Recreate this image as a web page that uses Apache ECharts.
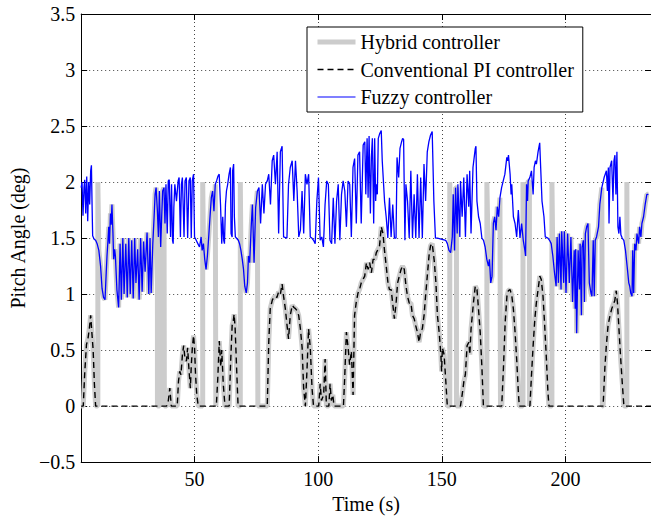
<!DOCTYPE html>
<html>
<head>
<meta charset="utf-8">
<script src="https://cdn.jsdelivr.net/npm/echarts@6/dist/echarts.min.js"></script>
<style>html,body{margin:0;padding:0;background:#fff}#c{width:651px;height:519px}</style>
</head>
<body>
<div id="c"></div>
<script>
// ---- data ----
const seriesNames = ['Hybrid controller', 'Conventional PI controller', 'Fuzzy controller'];
const xTickValues = [50, 100, 150, 200];
const xMin = 4.16, xMax = 234.56;
const yMin = -0.5, yMax = 3.5, yStep = 0.5;

// Conventional PI controller: [time (s), pitch angle (deg)]
const piData = [
[4.16,0],[5.0,0],[5.6,0.3],[6.3,0.55],[6.9,0.6],[7.5,0.7],[8.0,0.81],[8.5,0.65],[9.0,0.5],[9.5,0.2],[10.0,0],
[38.7,0],[39.4,0.05],[40.0,0.16],[40.6,0],
[43.0,0],[43.5,0.22],[44.0,0.31],[44.5,0.28],[45.1,0.46],[45.6,0.54],[46.1,0.43],[46.7,0.40],[47.2,0.52],[47.7,0.34],[48.3,0.16],[48.7,0.37],[49.1,0.52],[49.6,0.63],[50.0,0.52],[50.4,0.28],[50.9,0.10],[51.5,0],
[58.8,0],[59.4,0.25],[60.0,0.58],[60.6,0.35],[61.0,0.5],[61.6,0.2],[62.3,0],
[64.0,0],[64.6,0.4],[65.2,0.72],[65.6,0.75],[66.0,0.82],[66.4,0.7],[66.9,0.4],[67.6,0],
[79.4,0],[80.0,0.57],[80.6,0.87],[81.5,0.95],[82.5,0.98],[83.3,0.97],[84.0,1.02],[84.7,1.0],[85.4,1.09],[86.0,0.98],[86.7,0.87],[87.4,0.72],[88.0,0.60],[88.7,0.81],[89.5,0.90],[90.2,0.88],[90.8,0.87],[91.5,0.85],[92.1,0.81],[92.8,0.69],[93.5,0.52],[94.1,0.16],[94.8,0],[95.5,0.34],[96.1,0.69],[96.8,0.52],[97.5,0.16],[98.1,0],
[100.2,0],[100.8,0.2],[101.3,0.05],[102.2,0.1],[102.8,0.42],[103.3,0],[104.3,0],[104.8,0.2],[105.3,0.05],[105.9,0.1],[106.4,0],
[110.2,0],[110.7,0.25],[111.4,0.66],[112.1,0.52],[112.7,0.37],[113.4,0.49],[114.1,0.1],[114.7,0.81],[115.4,0.93],[116.1,1.01],[116.7,1.04],[117.4,1.10],[118.1,1.13],[118.8,1.16],[119.5,1.28],[120.2,1.22],[120.8,1.28],[121.5,1.19],[122.2,1.31],[122.9,1.31],[123.5,1.37],[124.2,1.40],[124.8,1.43],[125.5,1.60],[126.2,1.54],[126.8,1.39],[127.5,1.25],[128.2,1.10],[128.8,1.04],[129.5,1.04],[130.1,0.92],[130.8,0.78],[131.5,0.92],[132.1,1.10],[132.8,1.16],[133.5,1.22],[134.1,1.25],[134.8,1.22],[135.5,1.07],[136.1,0.98],[136.8,0.92],[137.5,0.92],[138.1,0.81],[138.8,0.78],[139.4,0.72],[140.1,0.66],[140.8,0.57],[141.4,0.66],[142.1,0.69],[142.8,0.81],[143.4,0.98],[144.1,1.16],[144.8,1.34],[145.4,1.43],[146.1,1.45],[146.9,1.30],[147.6,1.10],[148.2,0.81],[148.9,0.66],[149.6,0.46],[149.9,0.31],[150.2,0.52],[150.9,0.46],[151.6,0.22],[152.2,0],
[157.5,0],[158.2,0.1],[158.9,0.22],[159.5,0.28],[160.2,0.54],[160.9,0.57],[161.3,0.46],[161.8,0.69],[162.8,0.93],[163.5,1.07],[164.2,1.04],[164.8,0.87],[165.5,0.66],[166.2,0.34],[166.8,0],
[174.2,0],[174.9,0.34],[175.6,0.75],[176.3,0.98],[176.9,1.03],[177.6,1.04],[178.3,0.98],[178.9,0.87],[179.6,0.66],[180.3,0.40],[180.9,0.13],[181.3,0],
[185.6,0],[186.2,0.26],[186.9,0.54],[187.6,0.78],[188.2,0.92],[188.9,1.04],[189.6,1.16],[190.2,1.13],[190.9,0.98],[191.5,0.75],[192.2,0.45],[192.9,0.12],[193.3,0],
[215.2,0],[215.9,0.34],[216.5,0.54],[217.2,0.72],[218.0,0.81],[218.7,0.87],[219.2,0.90],[219.9,0.94],[220.5,1.03],[221.0,0.92],[221.6,0.69],[222.2,0.46],[222.9,0.22],[223.6,0],[234.6,0]
];

// Fuzzy controller: [time (s), pitch angle (deg)]
const fuzzyData = [
[4.16,1.95],[4.5,2.0],[4.9,1.7],[5.3,1.95],[5.6,2.02],[6.0,1.72],[6.4,2.05],[6.8,1.65],[7.2,2.0],[7.6,1.8],[8.0,2.1],[8.3,2.15],[8.6,1.75],[8.8,1.52],[9.4,1.49],[10.0,1.48],[10.6,1.45],[11.3,1.39],[12.0,1.25],[12.6,1.05],[13.2,0.97],[13.8,0.95],[14.3,1.2],[14.6,1.34],[15.0,1.48],[15.3,1.60],[15.6,1.45],[16.0,1.72],[16.3,1.62],[16.6,1.80],[17.0,1.55],[17.3,1.31],[17.7,1.40],[18.0,1.34],[18.6,1.04],[19.3,0.88],[19.9,1.45],[20.4,0.95],[21.0,1.5],[21.5,1.0],[22.2,1.45],[22.8,0.97],[23.4,1.5],[24.0,1.0],[24.6,1.48],[25.2,0.96],[25.8,1.5],[26.3,1.1],[27.0,1.4],[27.6,0.95],[28.2,1.5],[28.8,1.02],[29.4,1.47],[30.0,1.2],[30.8,1.55],[31.5,1.0],[32.0,1.5],[32.46,1.01],[33.12,1.45],[33.65,1.69],[34.05,1.89],[34.45,1.95],[34.98,1.74],[35.38,1.51],[35.78,1.92],[36.31,1.42],[36.71,1.69],[37.11,1.92],[37.64,1.95],[38.04,1.63],[38.44,1.98],[38.97,1.54],[39.37,2.01],[39.77,2.02],[40.30,1.51],[40.70,1.98],[41.10,1.48],[41.36,1.45],[41.63,1.77],[42.03,1.98],[42.69,1.83],[43.36,2.01],[43.76,2.04],[44.29,1.51],[44.69,1.98],[45.08,2.04],[45.35,1.83],[45.75,1.51],[46.15,2.01],[46.68,2.04],[47.21,1.50],[47.74,2.01],[48.27,2.04],[48.67,1.50],[49.07,2.01],[49.60,2.07],[50.00,1.51],[50.67,1.48],[51.33,1.45],[51.99,1.42],[52.66,1.51],[53.06,1.39],[53.59,1.45],[54.12,1.31],[54.65,1.22],[55.19,1.34],[55.72,1.51],[56.25,1.69],[56.78,1.86],[57.31,1.92],[57.84,1.74],[58.38,1.98],[58.91,2.01],[59.44,2.05],[59.97,2.07],[60.50,1.80],[61.0,1.45],[61.4,1.69],[61.8,1.48],[62.1,1.45],[62.5,1.80],[62.9,1.92],[63.4,1.98],[63.96,2.07],[64.5,2.13],[64.76,1.54],[65.2,1.51],[65.4,2.10],[65.8,2.16],[66.1,1.69],[66.5,1.51],[66.9,1.50],[67.7,1.48],[68.2,1.45],[68.75,1.39],[69.3,1.31],[69.8,1.22],[70.3,1.07],[70.9,1.01],[71.4,1.10],[71.8,1.34],[72.3,1.28],[72.9,1.60],[73.4,1.80],[74.06,1.28],[74.7,1.77],[75.4,1.92],[76.05,1.95],[76.7,1.63],[77.4,1.98],[78.05,1.72],[78.7,1.98],[79.4,2.01],[80.0,2.07],[80.7,1.80],[81.4,2.19],[82.0,2.24],[82.7,1.98],[83.4,2.27],[84.0,1.54],[84.7,2.27],[85.4,2.32],[86.0,1.51],[87.35,1.50],[88.0,1.98],[88.7,2.13],[89.48,2.19],[90.14,1.83],[90.81,2.19],[91.47,1.92],[92.14,1.51],[92.8,1.57],[93.47,1.92],[94.13,1.54],[94.8,2.07],[95.46,1.98],[96.13,2.07],[96.79,1.51],[97.45,1.50],[98.12,1.48],[98.78,1.45],[99.45,1.83],[100.11,2.04],[100.78,1.48],[101.44,1.51],[102.1,1.42],[102.77,1.80],[103.44,2.01],[104.1,1.98],[104.76,1.48],[105.43,1.45],[106.09,1.86],[106.76,1.45],[107.42,1.83],[108.09,1.98],[108.75,1.48],[109.42,1.89],[110.08,2.01],[110.75,1.92],[111.41,1.60],[112.07,2.01],[112.74,1.98],[113.4,1.51],[114.07,2.13],[114.73,2.21],[115.4,1.63],[116.06,2.24],[116.73,2.27],[117.39,1.63],[118.18,2.33],[118.84,2.36],[119.24,1.89],[119.77,2.39],[120.17,1.86],[120.57,2.41],[121.1,1.72],[121.5,2.22],[121.9,2.39],[122.43,1.63],[122.83,2.39],[123.23,1.83],[123.5,1.98],[123.9,1.89],[124.29,2.39],[124.83,2.43],[125.49,2.46],[125.89,2.19],[126.82,1.83],[127.48,1.69],[128.15,1.50],[128.81,1.86],[129.48,1.51],[130.14,1.80],[130.81,1.50],[131.47,1.50],[131.87,2.22],[132.53,2.04],[133.07,2.30],[133.73,2.36],[134.13,2.39],[134.53,2.38],[135.06,1.48],[135.46,1.98],[136.12,1.83],[136.79,1.50],[137.45,2.10],[138.12,1.50],[138.78,1.89],[139.45,1.50],[140.11,2.07],[140.77,1.50],[141.44,2.04],[142.1,1.50],[142.77,2.16],[143.43,1.83],[144.1,2.27],[144.76,2.36],[145.43,2.42],[146.09,2.45],[146.76,1.83],[147.4,1.50],[148.23,1.50],[151.55,1.48],[152.22,1.45],[152.88,1.39],[153.55,1.37],[154.21,1.51],[154.61,1.89],[155.14,1.39],[155.54,1.95],[156.2,1.54],[156.47,1.98],[157.27,1.51],[157.53,2.01],[158.2,1.69],[158.86,2.04],[159.53,1.51],[160.19,2.07],[160.86,1.78],[161.25,2.10],[161.79,1.54],[162.58,2.13],[163.51,2.30],[163.78,2.32],[164.18,1.83],[164.84,1.69],[165.51,1.63],[166.17,1.50],[166.84,1.48],[167.5,1.42],[168.17,1.31],[168.83,1.25],[169.23,1.31],[169.76,1.10],[170.29,1.16],[170.82,1.63],[171.36,1.69],[171.89,1.57],[172.42,1.78],[172.95,1.69],[173.48,1.86],[174.15,1.95],[174.81,2.01],[175.48,2.07],[176.26,2.22],[176.66,2.19],[176.93,2.24],[177.59,2.07],[177.99,1.89],[178.26,1.98],[178.92,1.69],[179.59,1.63],[180.25,1.51],[180.92,1.75],[181.58,1.50],[182.25,1.63],[182.91,1.48],[183.57,1.39],[183.84,1.34],[184.24,1.98],[184.64,1.83],[184.9,2.01],[185.57,2.04],[186.23,2.10],[186.9,1.89],[187.3,2.13],[187.83,2.19],[188.23,2.16],[188.89,2.27],[189.56,2.35],[189.95,2.13],[190.49,1.83],[191.28,1.69],[191.81,1.51],[192.88,1.50],[193.54,1.48],[194.21,1.45],[194.87,1.34],[195.54,1.19],[196.2,1.07],[196.6,1.51],[197.13,1.10],[197.53,1.54],[198.19,1.04],[198.46,1.56],[199.26,1.10],[199.52,1.56],[200.19,1.01],[200.85,1.54],[201.52,1.10],[202.18,1.51],[202.85,0.93],[203.51,1.39],[203.91,0.87],[204.1,1.40],[204.5,0.65],[205.1,1.39],[205.63,1.04],[205.9,1.45],[206.43,0.81],[206.69,1.42],[207.22,1.48],[207.62,0.93],[208.02,1.54],[208.55,1.60],[209.08,1.63],[209.62,1.10],[210.28,1.01],[210.68,0.98],[211.21,1.48],[211.61,0.98],[212.01,1.48],[212.54,1.51],[213.34,1.60],[213.87,1.80],[214.67,1.95],[215.6,2.04],[216.53,2.10],[216.93,1.92],[217.32,2.13],[217.59,1.63],[217.99,2.13],[218.65,2.19],[219.19,1.83],[219.58,2.19],[219.98,2.24],[220.38,1.89],[220.78,2.27],[221.18,1.60],[221.58,1.54],[221.98,1.69],[222.38,1.53],[222.91,1.50],[223.57,1.48],[224.24,1.39],[224.9,1.25],[225.57,1.10],[225.96,1.07],[226.36,1.01],[226.89,0.98],[227.16,1.39],[227.56,1.01],[227.96,1.45],[228.49,1.39],[228.89,1.54],[229.55,1.45],[229.95,1.60],[230.48,1.51],[230.88,1.63],[231.55,1.69],[232.21,1.80],[232.88,1.89],[233.54,1.89]
];

// Hybrid controller: switching instants [time (s), active controller, value reached at the switch]
const hybridSwitches = [
[4.16,'pi'],[10.9,'fz',2.0],[35.0,'pi'],[35.9,'fz',1.9],[37.8,'pi'],[53.3,'fz',2.0],[58.6,'pi'],
[68.5,'fz',2.0],[75.6,'pi'],[153.2,'fz',2.0],[155.9,'pi'],[168.2,'fz',2.0],[173.7,'pi'],
[182.8,'fz',2.0],[185.4,'pi'],[194.5,'fz',2.0],[214.9,'pi'],[224.8,'fz',2.0]
];

// ---- build hybrid trace from the two controllers and its switching instants ----
function buildHybrid() {
  const out = [];
  for (let i = 0; i < hybridSwitches.length; i++) {
    const [t0, mode, peak] = hybridSwitches[i];
    const t1 = i + 1 < hybridSwitches.length ? hybridSwitches[i + 1][0] : xMax;
    if (mode === 'fz') {
      out.push([t0, 0], [t0, peak]);
      fuzzyData.forEach(p => { if (p[0] > t0 && p[0] < t1) out.push(p); });
    } else {
      if (out.length) out.push([t0, out[out.length - 1][1]]);
      out.push([t0, 0]);
      piData.forEach(p => { if (p[0] > t0 && p[0] < t1) out.push(p); });
    }
  }
  return out;
}
const hybridData = buildHybrid();

const FONT = 'Liberation Serif';
const COLORS = ['#cccccc', '#000000', '#0000ff'];
const chart = echarts.init(document.getElementById('c'), null, { renderer: 'svg' });
const gridLine = { show: true, lineStyle: { color: '#444', width: 1, type: [1, 3] } };
const hiddenSymbol = { opacity: 0, color: 'transparent', borderColor: 'transparent', borderWidth: 0 };
chart.setOption({
  animation: false,
  backgroundColor: '#fff',
  grid: { left: 76, right: -3, top: 14, bottom: 50, containLabel: false },
  legend: {
    orient: 'vertical', left: 307, top: 27,
    padding: [5, 9, 5, 8], itemGap: 7.5, itemWidth: 38, itemHeight: 20,
    backgroundColor: '#fff', borderColor: '#000', borderWidth: 1, borderRadius: 0,
    textStyle: { fontFamily: FONT, fontSize: 20, color: '#000' },
    itemStyle: hiddenSymbol,
    data: [
      { name: seriesNames[0], itemStyle: hiddenSymbol, lineStyle: { color: COLORS[0], width: 5 } },
      { name: seriesNames[1], itemStyle: hiddenSymbol, lineStyle: { color: COLORS[1], width: 1.4, type: [6, 4] } },
      { name: seriesNames[2], itemStyle: hiddenSymbol, lineStyle: { color: COLORS[2], width: 1.2 } }
    ]
  },
  xAxis: [{
    type: 'value', min: xMin, max: xMax, position: 'bottom',
    axisLine: { show: true, onZero: false, lineStyle: { color: '#000', width: 1 } },
    axisTick: { show: true, inside: true, length: 6, customValues: xTickValues, lineStyle: { color: '#000' } },
    axisLabel: { customValues: xTickValues, fontFamily: FONT, fontSize: 20, color: '#000', margin: 7 },
    splitLine: gridLine,
    name: 'Time (s)', nameLocation: 'middle', nameGap: 25,
    nameTextStyle: { fontFamily: FONT, fontSize: 20, color: '#000' }
  }, {
    type: 'value', min: xMin, max: xMax, position: 'top',
    axisLine: { show: true, onZero: false, lineStyle: { color: '#000', width: 1 } },
    axisTick: { show: true, inside: true, length: 6, customValues: xTickValues, lineStyle: { color: '#000' } },
    axisLabel: { show: false }, splitLine: { show: false }
  }],
  yAxis: [{
    type: 'value', min: yMin, max: yMax, interval: yStep,
    axisLine: { show: true, onZero: false, lineStyle: { color: '#000', width: 1 } },
    axisTick: { show: true, inside: true, length: 6, lineStyle: { color: '#000' } },
    axisLabel: {
      fontFamily: FONT, fontSize: 20, color: '#000', margin: 6,
      formatter: v => (v < 0 ? '\u2212' + Math.abs(v) : String(v))
    },
    splitLine: gridLine,
    name: 'Pitch Angle (deg)', nameLocation: 'middle', nameGap: 50, nameRotate: 90,
    nameTextStyle: { fontFamily: FONT, fontSize: 20, color: '#000' }
  }, {
    type: 'value', min: yMin, max: yMax, interval: yStep, position: 'right',
    axisLine: { show: true, onZero: false, lineStyle: { color: '#000', width: 1 } },
    axisTick: { show: true, inside: true, length: 6, lineStyle: { color: '#000' } },
    axisLabel: { show: false }, splitLine: { show: false }
  }],
  series: [
    { name: seriesNames[0], type: 'line', data: hybridData, symbol: 'none', showSymbol: false,
      lineStyle: { color: COLORS[0], width: 5 }, itemStyle: { color: COLORS[0] }, z: 1 },
    { name: seriesNames[1], type: 'line', data: piData, symbol: 'none', showSymbol: false,
      lineStyle: { color: COLORS[1], width: 1.4, type: [6, 4] }, itemStyle: { color: COLORS[1] }, z: 2 },
    { name: seriesNames[2], type: 'line', data: fuzzyData, symbol: 'none', showSymbol: false,
      lineStyle: { color: COLORS[2], width: 1.3 }, itemStyle: { color: COLORS[2] }, z: 3 }
  ]
});
</script>
</body>
</html>
